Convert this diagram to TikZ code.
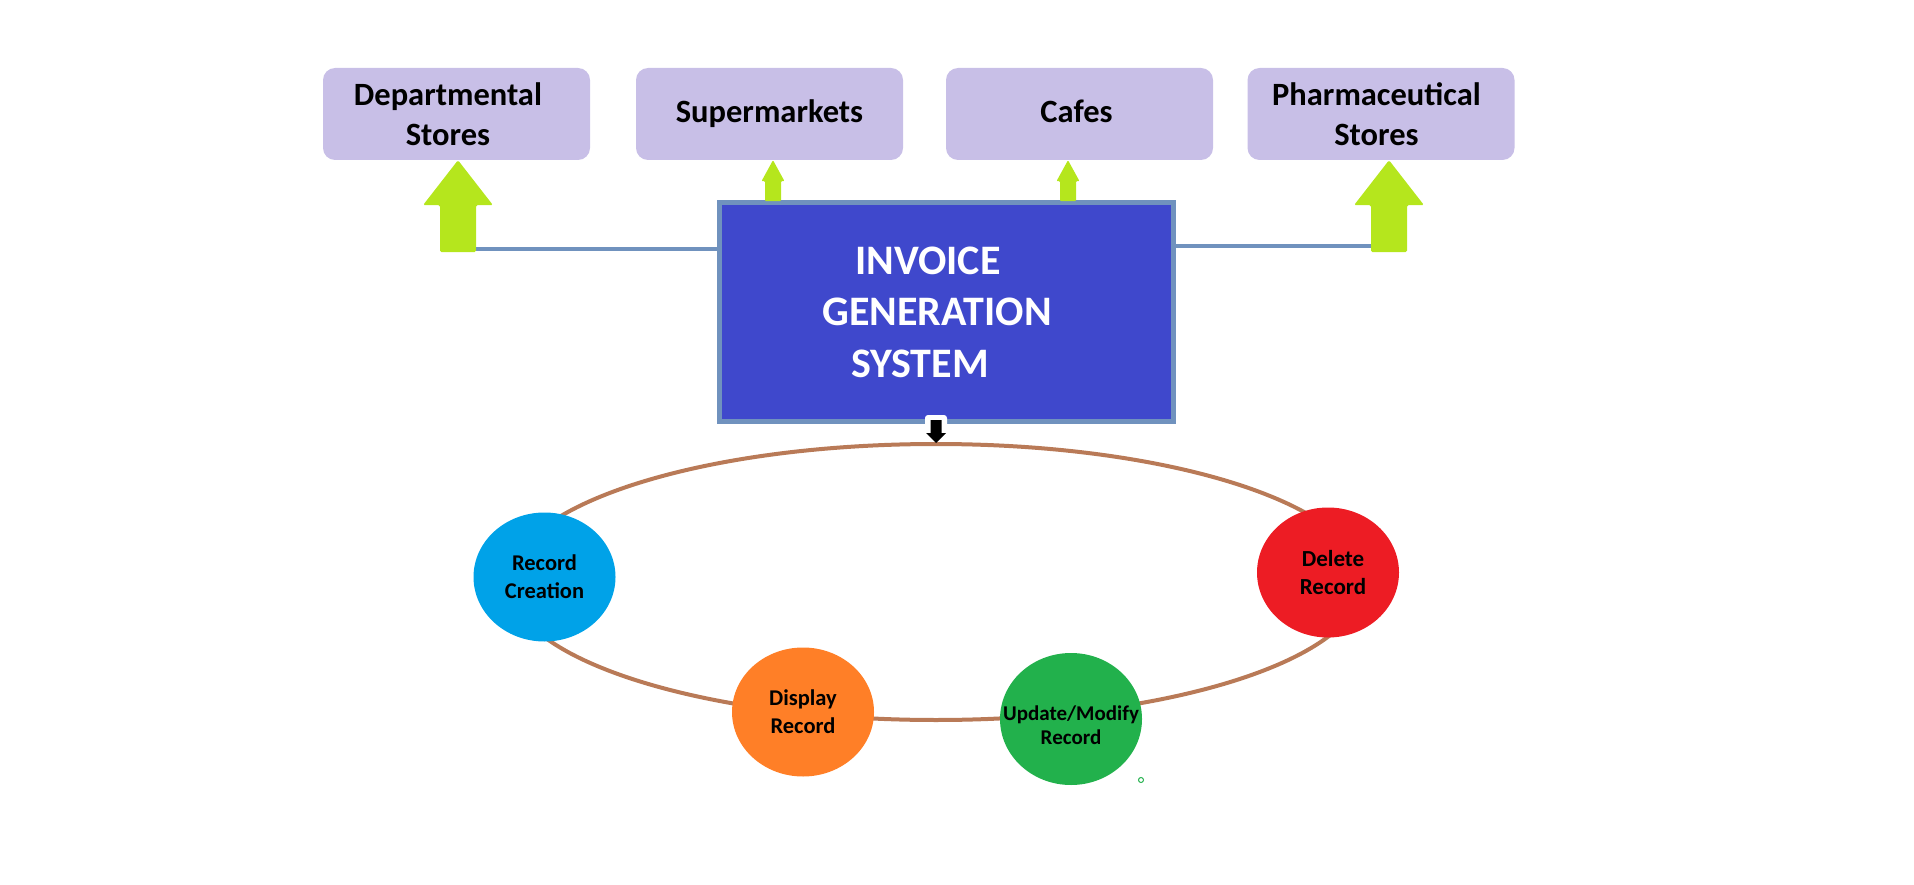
\documentclass[tikz,border=0pt]{standalone}
\usepackage{fontspec}
\setmainfont{Carlito}
\usetikzlibrary{shapes.geometric}
\definecolor{boxc}{RGB}{200,191,231}
\definecolor{arrowc}{RGB}{181,230,29}
\definecolor{linkc}{RGB}{112,146,190}
\definecolor{mainc}{RGB}{63,72,204}
\definecolor{ringc}{RGB}{185,122,87}
\definecolor{rcc}{RGB}{0,162,232}
\definecolor{dispc}{RGB}{255,127,39}
\definecolor{updc}{RGB}{34,177,76}
\definecolor{delc}{RGB}{237,28,36}
\begin{document}
\begin{tikzpicture}[x=1pt,y=-1pt,
  topbox/.style={rounded corners=12pt, fill=boxc, minimum width=267pt, minimum height=92pt,
    align=center, inner sep=0pt, font=\fontsize{32.5}{40}\selectfont\bfseries},
  mainbox/.style={fill=mainc, draw=linkc, line width=5pt, minimum width=454pt, minimum height=219pt,
    align=center, inner sep=0pt, text=white, font=\fontsize{42}{51.5}\selectfont\bfseries},
  link/.style={draw=linkc, line width=4pt},
  bub/.style={ellipse, inner sep=0pt, minimum width=142pt, minimum height=129pt},
  lbl/.style={align=center, inner sep=0pt, font=\fontsize{22.5}{28}\selectfont\bfseries},
  bigup/.pic={
    \fill[arrowc, rounded corners=1.5pt] (0,0) -- (35,45) -- (18,45) -- (18,92) -- (-18,92) -- (-18,45) -- (-35,45) -- cycle;
    \coordinate (-r) at (18,89);
    \coordinate (-l) at (-18,86);
  },
  smallup/.pic={
    \fill[arrowc, rounded corners=1pt] (0,0) -- (11.5,21) -- (8,21) -- (8,41) -- (-8,41) -- (-8,21) -- (-11.5,21) -- cycle;
  },
  blackdown/.pic={
    \fill[white, rounded corners=3pt] (-11,-27) rectangle (11,-8);
    \fill[black] (0,1) -- (-10,-9) -- (-5.5,-9) -- (-5.5,-22) -- (5.5,-22) -- (5.5,-9) -- (10,-9) -- cycle;
  }
]
\useasboundingbox (0,0) rectangle (1914,885);

% top boxes
\node[topbox] (dept)  at (456.5,114) {Departmental\hspace*{17pt}\\Stores\hspace*{17pt}};
\node[topbox] (super) at (769.5,114) {Supermarkets};
\node[topbox] (cafe)  at (1079.5,114) {Cafes\vphantom{Sp}\hspace*{6pt}};
\node[topbox] (pharm) at (1381,114) {Pharmaceutical\hspace*{9pt}\\Stores\hspace*{9pt}};

% main box
\node[mainbox] (main) at (946.5,312) {\hbox{INVOICE\kern37pt}\\\hbox{GENERATION\kern19pt}\\\hbox{SYSTEM\kern53pt}};

% green arrows
\pic (L) at ([xshift=1.5pt]dept.south) {bigup};
\pic (R) at ([xshift=8pt]pharm.south) {bigup};
\pic (S) at ([xshift=3.5pt]super.south) {smallup};
\pic (C) at ([xshift=-11.5pt]cafe.south) {smallup};

% links
\draw[link] (L-r) -- (L-r -| main.west);
\draw[link] (R-l) -- (R-l -| main.east);

% ring
\node[ellipse, draw=ringc, line width=4pt, minimum width=854pt, minimum height=276pt, inner sep=0pt] (ring) at (936,582) {};

% bubbles
\node[bub, fill=rcc, label={[lbl]center:Record\\Creation}] (rc) at (544.5,577) {};
\node[bub, fill=dispc, label={[lbl]center:Display\\Record}] (disp) at (803,712) {};
\node[bub, fill=updc, minimum height=132pt, label={[lbl, yshift=-6pt, font=\fontsize{21}{24}\selectfont\bfseries]center:Update/Modify\\Record}] (upd) at (1071,719) {};
\node[bub, fill=delc, minimum height=130pt, label={[lbl, xshift=5pt, font=\fontsize{23}{28}\selectfont\bfseries]center:Delete\\Record}] (del) at (1328,572.5) {};

% black arrow from main box to ring
\pic at (ring.north) {blackdown};

% small green dot
\node[circle, draw=updc, line width=1pt, inner sep=0pt, minimum size=5pt] (dot) at (1141,780) {};
\end{tikzpicture}
\end{document}
